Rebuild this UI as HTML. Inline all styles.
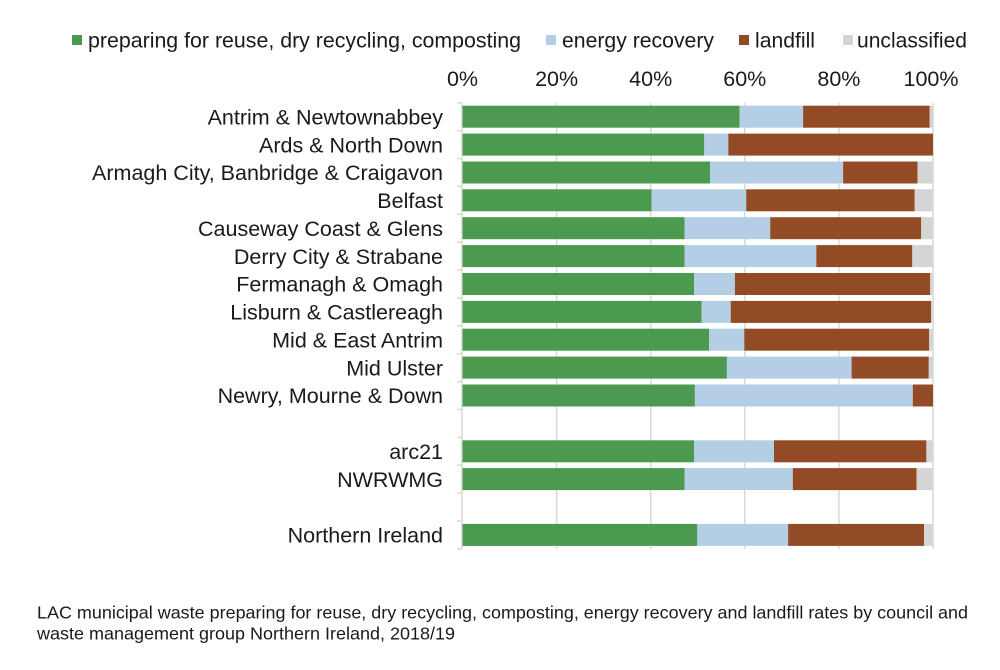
<!DOCTYPE html>
<html>
<head>
<meta charset="utf-8">
<style>
html,body{margin:0;padding:0;background:#fff;}
svg{display:block;}
text{font-family:"Liberation Sans",Arial,sans-serif;fill:#1a1a1a;}
</style>
</head>
<body>
<svg width="1000" height="670" viewBox="0 0 1000 670" xmlns="http://www.w3.org/2000/svg">
<rect width="1000" height="670" fill="#fff"/>

<!-- Legend -->
<rect x="72" y="35" width="10" height="10" fill="#4b9a4f"/>
<text x="88" y="47.5" font-size="21" textLength="433" lengthAdjust="spacingAndGlyphs">preparing for reuse, dry recycling, composting</text>
<rect x="546" y="35" width="10" height="10" fill="#b4cfe5"/>
<text x="562" y="47.5" font-size="21" textLength="152" lengthAdjust="spacingAndGlyphs">energy recovery</text>
<rect x="739" y="35" width="10" height="10" fill="#934b25"/>
<text x="755" y="47.5" font-size="21" textLength="60" lengthAdjust="spacingAndGlyphs">landfill</text>
<rect x="843" y="35" width="10" height="10" fill="#d5d5d5"/>
<text x="857" y="47.5" font-size="21" textLength="110" lengthAdjust="spacingAndGlyphs">unclassified</text>

<!-- Tick labels -->
<g font-size="21.5" text-anchor="middle">
<text x="462.5" y="86">0%</text>
<text x="556.6" y="86">20%</text>
<text x="650.7" y="86">40%</text>
<text x="744.8" y="86">60%</text>
<text x="838.9" y="86">80%</text>
<text x="931" y="86">100%</text>
</g>

<!-- Gridlines -->
<g stroke="#d9d9d9" stroke-width="1.5">
<line x1="556.6" y1="102.8" x2="556.6" y2="548.9"/>
<line x1="650.7" y1="102.8" x2="650.7" y2="548.9"/>
<line x1="744.8" y1="102.8" x2="744.8" y2="548.9"/>
<line x1="838.9" y1="102.8" x2="838.9" y2="548.9"/>
<line x1="933" y1="102.8" x2="933" y2="548.9"/>
<line x1="462" y1="102.8" x2="462" y2="548.9"/>
</g>
<!-- axis ticks -->
<g stroke="#d9d9d9" stroke-width="1.5">
<line x1="457" y1="102.8" x2="462" y2="102.8"/>
<line x1="457" y1="130.7" x2="462" y2="130.7"/>
<line x1="457" y1="158.6" x2="462" y2="158.6"/>
<line x1="457" y1="186.4" x2="462" y2="186.4"/>
<line x1="457" y1="214.3" x2="462" y2="214.3"/>
<line x1="457" y1="242.2" x2="462" y2="242.2"/>
<line x1="457" y1="270.1" x2="462" y2="270.1"/>
<line x1="457" y1="298.0" x2="462" y2="298.0"/>
<line x1="457" y1="325.8" x2="462" y2="325.8"/>
<line x1="457" y1="353.7" x2="462" y2="353.7"/>
<line x1="457" y1="381.6" x2="462" y2="381.6"/>
<line x1="457" y1="409.5" x2="462" y2="409.5"/>
<line x1="457" y1="437.4" x2="462" y2="437.4"/>
<line x1="457" y1="465.2" x2="462" y2="465.2"/>
<line x1="457" y1="493.1" x2="462" y2="493.1"/>
<line x1="457" y1="521.0" x2="462" y2="521.0"/>
<line x1="457" y1="548.9" x2="462" y2="548.9"/>
</g>

<!-- Bars -->
<g>
<rect x="462.5" y="105.7" width="277.1" height="22" fill="#4b9a4f"/>
<rect x="739.6" y="105.7" width="63.5" height="22" fill="#b4cfe5"/>
<rect x="803.1" y="105.7" width="126.6" height="22" fill="#934b25"/>
<rect x="929.7" y="105.7" width="3.3" height="22" fill="#d5d5d5"/>

<rect x="462.5" y="133.6" width="241.8" height="22" fill="#4b9a4f"/>
<rect x="704.3" y="133.6" width="24.0" height="22" fill="#b4cfe5"/>
<rect x="728.3" y="133.6" width="204.7" height="22" fill="#934b25"/>

<rect x="462.5" y="161.5" width="247.5" height="22" fill="#4b9a4f"/>
<rect x="710.0" y="161.5" width="133.1" height="22" fill="#b4cfe5"/>
<rect x="843.1" y="161.5" width="74.4" height="22" fill="#934b25"/>
<rect x="917.5" y="161.5" width="15.5" height="22" fill="#d5d5d5"/>

<rect x="462.5" y="189.3" width="189.1" height="22" fill="#4b9a4f"/>
<rect x="651.6" y="189.3" width="94.6" height="22" fill="#b4cfe5"/>
<rect x="746.2" y="189.3" width="168.5" height="22" fill="#934b25"/>
<rect x="914.7" y="189.3" width="18.3" height="22" fill="#d5d5d5"/>

<rect x="462.5" y="217.2" width="222.1" height="22" fill="#4b9a4f"/>
<rect x="684.6" y="217.2" width="85.6" height="22" fill="#b4cfe5"/>
<rect x="770.2" y="217.2" width="151.0" height="22" fill="#934b25"/>
<rect x="921.2" y="217.2" width="11.8" height="22" fill="#d5d5d5"/>

<rect x="462.5" y="245.1" width="222.1" height="22" fill="#4b9a4f"/>
<rect x="684.6" y="245.1" width="131.7" height="22" fill="#b4cfe5"/>
<rect x="816.3" y="245.1" width="96.0" height="22" fill="#934b25"/>
<rect x="912.3" y="245.1" width="20.7" height="22" fill="#d5d5d5"/>

<rect x="462.5" y="273.0" width="231.5" height="22" fill="#4b9a4f"/>
<rect x="694.0" y="273.0" width="40.9" height="22" fill="#b4cfe5"/>
<rect x="734.9" y="273.0" width="195.3" height="22" fill="#934b25"/>
<rect x="930.2" y="273.0" width="2.8" height="22" fill="#d5d5d5"/>

<rect x="462.5" y="300.9" width="239.0" height="22" fill="#4b9a4f"/>
<rect x="701.5" y="300.9" width="29.2" height="22" fill="#b4cfe5"/>
<rect x="730.7" y="300.9" width="200.4" height="22" fill="#934b25"/>
<rect x="931.1" y="300.9" width="1.9" height="22" fill="#d5d5d5"/>

<rect x="462.5" y="328.7" width="246.5" height="22" fill="#4b9a4f"/>
<rect x="709.0" y="328.7" width="35.3" height="22" fill="#b4cfe5"/>
<rect x="744.3" y="328.7" width="184.9" height="22" fill="#934b25"/>
<rect x="929.2" y="328.7" width="3.8" height="22" fill="#d5d5d5"/>

<rect x="462.5" y="356.6" width="264.4" height="22" fill="#4b9a4f"/>
<rect x="726.9" y="356.6" width="124.7" height="22" fill="#b4cfe5"/>
<rect x="851.6" y="356.6" width="77.2" height="22" fill="#934b25"/>
<rect x="928.8" y="356.6" width="4.2" height="22" fill="#d5d5d5"/>

<rect x="462.5" y="384.5" width="232.4" height="22" fill="#4b9a4f"/>
<rect x="694.9" y="384.5" width="217.9" height="22" fill="#b4cfe5"/>
<rect x="912.8" y="384.5" width="20.2" height="22" fill="#934b25"/>

<rect x="462.5" y="440.3" width="231.5" height="22" fill="#4b9a4f"/>
<rect x="694.0" y="440.3" width="80.0" height="22" fill="#b4cfe5"/>
<rect x="774.0" y="440.3" width="152.4" height="22" fill="#934b25"/>
<rect x="926.4" y="440.3" width="6.6" height="22" fill="#d5d5d5"/>

<rect x="462.5" y="468.1" width="222.1" height="22" fill="#4b9a4f"/>
<rect x="684.6" y="468.1" width="108.2" height="22" fill="#b4cfe5"/>
<rect x="792.8" y="468.1" width="123.7" height="22" fill="#934b25"/>
<rect x="916.5" y="468.1" width="16.5" height="22" fill="#d5d5d5"/>

<rect x="462.5" y="523.9" width="234.8" height="22" fill="#4b9a4f"/>
<rect x="697.3" y="523.9" width="90.8" height="22" fill="#b4cfe5"/>
<rect x="788.1" y="523.9" width="136.0" height="22" fill="#934b25"/>
<rect x="924.1" y="523.9" width="8.9" height="22" fill="#d5d5d5"/>
</g>

<!-- Category labels -->
<g font-size="21.5" text-anchor="end">
<text x="443" y="124.4">Antrim &amp; Newtownabbey</text>
<text x="443" y="152.3">Ards &amp; North Down</text>
<text x="443" y="180.2">Armagh City, Banbridge &amp; Craigavon</text>
<text x="443" y="208.0">Belfast</text>
<text x="443" y="235.9">Causeway Coast &amp; Glens</text>
<text x="443" y="263.8">Derry City &amp; Strabane</text>
<text x="443" y="291.7">Fermanagh &amp; Omagh</text>
<text x="443" y="319.6">Lisburn &amp; Castlereagh</text>
<text x="443" y="347.4">Mid &amp; East Antrim</text>
<text x="443" y="375.3">Mid Ulster</text>
<text x="443" y="403.2">Newry, Mourne &amp; Down</text>
<text x="443" y="459.0">arc21</text>
<text x="443" y="486.8">NWRWMG</text>
<text x="443" y="542.6">Northern Ireland</text>
</g>

<!-- Caption -->
<text x="37" y="618.5" font-size="17.5" textLength="931" lengthAdjust="spacingAndGlyphs">LAC municipal waste preparing for reuse, dry recycling, composting, energy recovery and landfill rates by council and</text>
<text x="37" y="639.5" font-size="17.5" textLength="418" lengthAdjust="spacingAndGlyphs">waste management group Northern Ireland, 2018/19</text>
</svg>
</body>
</html>
